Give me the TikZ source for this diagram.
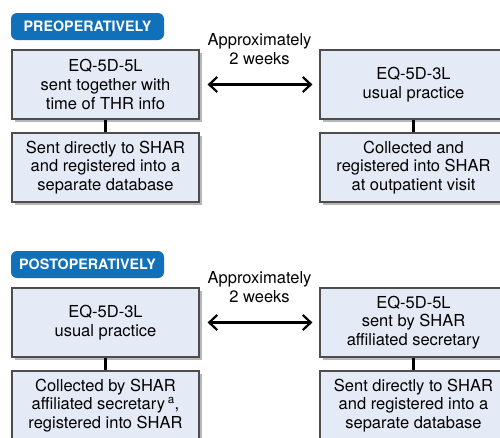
\documentclass[tikz,border=0pt]{standalone}
\usepackage{fontspec}
\setmainfont{TeX Gyre Heros}
\usepackage{xcolor}
\usepackage{tikz}
\usetikzlibrary{positioning}
\usetikzlibrary{shadows}
\usetikzlibrary{arrows.meta}
\definecolor{boxfill}{HTML}{E5EBF6}
\definecolor{boxline}{HTML}{4D4D4D}
\definecolor{headblue}{HTML}{1170BA}
\tikzset{
  infobox/.style={%
    draw=boxline,
    fill=boxfill,
    line width=1.2pt,
    minimum width=187pt,
    minimum height=69pt,
    inner sep=0,
    align=center,
    font=\fontsize{16.5}{18.8}\selectfont,
    drop shadow={shadow xshift=2.5pt,shadow yshift=-3pt,opacity=0.4,fill=black!70},
  },
  headbox/.style={%
    fill=headblue,
    text=white,
    rounded corners=6pt,
    minimum width=153pt,
    minimum height=27pt,
    inner sep=0,
    font=\fontsize{14.3}{16}\selectfont\bfseries,
  },
  link/.style={line width=3pt},
  span/.style={%
    line width=2.2pt,
    {Straight Barb[length=8pt,width=15pt]}-{Straight Barb[length=8pt,width=15pt]},
    shorten <=8pt,
    shorten >=7pt,
  },
}
\newcommand\Stage[6]{% one block: header, two boxes on each side
  \node (#1-head) [headbox] at (87.5,-26.5) {#2};
  \node (#1-lt) [infobox] at (105.5,-84.5) {#3};
  \node (#1-lb) [infobox] at (105.5,-167.5) {#4};
  \node (#1-rt) [infobox] at (413.5,-84.5) {#5};
  \node (#1-rb) [infobox] at (413.5,-167.5) {#6};
  \draw [link] (#1-lt) -- (#1-lb);
  \draw [link] (#1-rt) -- (#1-rb);
  \draw [span] (#1-lt) -- (#1-rt)
    node (#1-gap) [midway,above=18.5pt,inner sep=0,align=center,
      font=\fontsize{16.5}{18.8}\selectfont] {Approximately\\2 weeks};
}

\begin{document}
\begin{tikzpicture}[x=1pt,y=1pt]
    \useasboundingbox (0,0) rectangle (500,-437);
    \clip (0,0) rectangle (500,-437);
    \Stage{pre}{PREOPERATIVELY}
      {EQ-5D-5L\\sent together with\\time of THR info}
      {Sent directly to SHAR\\and registered into a\\separate database}
      {EQ-5D-3L\\usual practice}
      {Collected and\\registered into SHAR\\at outpatient visit}
    \begin{scope}[yshift=-238pt]
        \Stage{post}{POSTOPERATIVELY}
          {EQ-5D-3L\\usual practice}
          {Collected by SHAR\\affiliated secretary\,\textsuperscript{a},\\registered into SHAR}
          {EQ-5D-5L\\sent by SHAR\\affiliated secretary}
          {Sent directly to SHAR\\and registered into a\\separate database}
    \end{scope}
\end{tikzpicture}
\end{document}
